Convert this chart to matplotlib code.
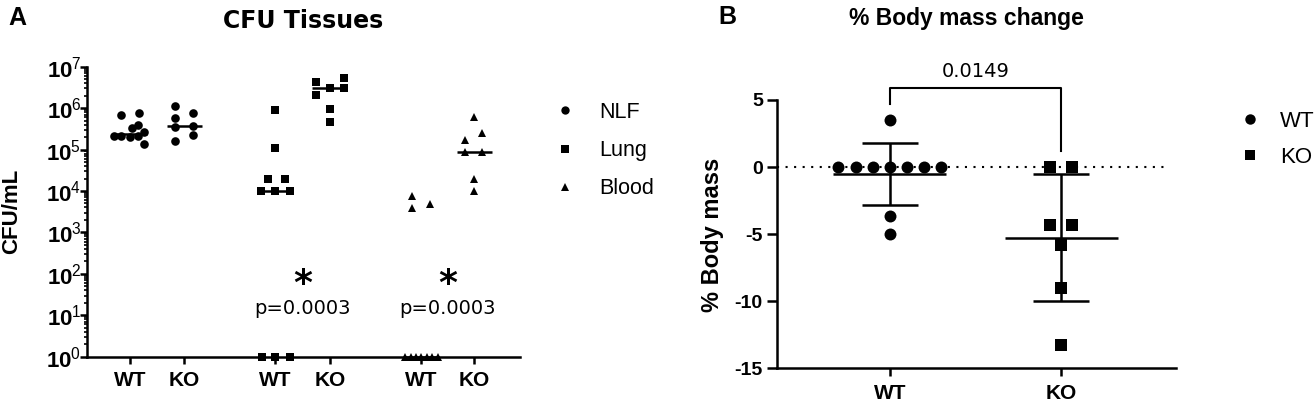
import matplotlib
matplotlib.use('Agg')
import matplotlib.pyplot as plt
import numpy as np
from matplotlib.lines import Line2D
from matplotlib.ticker import LogLocator, NullFormatter, FixedLocator

plt.rcParams['font.family'] = ['Liberation Sans', 'DejaVu Sans']
plt.rcParams['mathtext.fontset'] = 'custom'
plt.rcParams['mathtext.rm'] = 'Liberation Sans'
plt.rcParams['mathtext.bf'] = 'Liberation Sans:bold'
plt.rcParams['axes.unicode_minus'] = False

# ---------------- data: panel A (CFU/mL) ----------------
tissues = ['NLF', 'Lung', 'Blood']
genotypes = ['WT', 'KO']
nlf_wt = [6.9e5, 7.6e5, 4.0e5, 3.3e5, 2.7e5, 2.1e5, 2.1e5, 2.0e5, 2.1e5, 1.4e5]
nlf_ko = [1.15e6, 5.9e5, 3.6e5, 1.6e5, 7.6e5, 3.8e5, 2.2e5]
lung_wt = [9.1e5, 1.1e5, 2.0e4, 2.0e4, 1.0e4, 1.0e4, 1.0e4, 1, 1, 1]
lung_ko = [4.2e6, 2.1e6, 3.0e6, 5.3e6, 3.0e6, 9.3e5, 4.6e5]
blood_wt = [7.6e3, 3.8e3, 4.9e3, 1, 1, 1, 1, 1, 1, 1]
blood_ko = [6.0e5, 1.7e5, 2.5e5, 8.9e4, 8.9e4, 2.0e4, 1.0e4]
p_values_A = ['p=0.0003', 'p=0.0003']

# ---------------- data: panel B (% body mass change) ----------------
mass_wt = [3.5, 0, 0, 0, 0, 0, 0, 0, -3.68, -5.0]
mass_ko = [0, 0, -4.33, -4.33, -5.82, -9.03, -13.26]
p_value_B = '0.0149'

# ---------------- layout helpers (positions / jitter) ----------------
posA = [0, 1, 2.67, 3.67, 5.35, 6.32]
jit_nlf_wt = [-0.165, 0.165, 0.14, 0.03, 0.26, -0.29, -0.165, 0.0, 0.15, 0.26]
jit_nlf_ko = [-0.18, -0.18, -0.18, -0.18, 0.15, 0.15, 0.15]
jit_lung_wt = [0, 0, -0.14, 0.18, -0.26, 0, 0.27, -0.25, 0, 0.26]
jit_lung_ko = [-0.26, -0.26, 0, 0.26, 0.26, 0, 0]
jit_blood_wt = [-0.17, -0.17, 0.15, -0.3, -0.2, -0.1, 0, 0.1, 0.2, 0.3]
jit_blood_ko = [0, -0.17, 0.15, -0.17, 0.15, 0, 0]
jit_mass_wt = [0, -0.3, -0.2, -0.1, 0, 0.1, 0.2, 0.3, 0, 0]
jit_mass_ko = [-0.064, 0.064, -0.064, 0.064, 0, 0, 0]

W, H = 1314, 401
fig = plt.figure(figsize=(W / 100, H / 100), dpi=100)

def fx(x):
    return x / W

def fy(y):
    return 1 - y / H

axA = fig.add_axes([fx(87), fy(356.7), (520 - 87) / W, (356.7 - 66.7) / H])
axB = fig.add_axes([fx(776.7), fy(368.3), (1176 - 776.7) / W, (368.3 - 100) / H])

for ax in (axA, axB):
    for s in ('top', 'right'):
        ax.spines[s].set_visible(False)
    for s in ('left', 'bottom'):
        ax.spines[s].set_linewidth(1.8)

# ---------------- panel A ----------------
groups = [
    (nlf_wt, jit_nlf_wt, 'o', 6.2),
    (nlf_ko, jit_nlf_ko, 'o', 6.2),
    (lung_wt, jit_lung_wt, 's', 6.4),
    (lung_ko, jit_lung_ko, 's', 6.4),
    (blood_wt, jit_blood_wt, '^', 6.3),
    (blood_ko, jit_blood_ko, '^', 6.3),
]
for p, (vals, jit, m, ms) in zip(posA, groups):
    xs = np.array(jit) + p
    axA.plot(xs, vals, ls='none', marker=m, ms=ms, color='black',
             markeredgewidth=0, clip_on=False, zorder=3)
    med = np.median(vals)
    axA.plot([p - 0.32, p + 0.32], [med, med], color='black', lw=1.8,
             solid_capstyle='butt', clip_on=False, zorder=4)

axA.set_yscale('log')
axA.set_ylim(1, 1e7)
axA.set_xlim(-0.79, 7.16)
axA.yaxis.set_major_locator(FixedLocator([10.0 ** k for k in range(8)]))
axA.set_yticklabels([r'$\mathbf{10}^{\mathrm{%d}}$' % k for k in range(8)], fontsize=16)
axA.yaxis.set_minor_locator(LogLocator(base=10, subs=np.arange(2, 10), numticks=20))
axA.yaxis.set_minor_formatter(NullFormatter())
axA.tick_params(axis='y', which='major', length=5, width=1.8, pad=-1)
axA.tick_params(axis='y', which='minor', length=2.5, width=1.2)
axA.set_xticks(posA)
axA.set_xticklabels(genotypes * 3, fontsize=15, fontweight='bold')
axA.tick_params(axis='x', length=5, width=1.8, pad=5)

for i, g in enumerate([(2, 3), (4, 5)]):
    mid = (posA[g[0]] + posA[g[1]]) / 2
    axA.text(mid, 58, '*', ha='center', va='center', fontsize=26,
             fontweight='bold', family='DejaVu Sans')
    axA.text(mid, 14.5, p_values_A[i], ha='center', va='center', fontsize=14,
             family='DejaVu Sans')

fig.text(fx(303.5), fy(28), 'CFU Tissues', ha='center', va='baseline',
         fontsize=17, fontweight='bold', family='DejaVu Sans')
fig.text(fx(8), fy(25), 'A', ha='left', va='baseline', fontsize=18, fontweight='bold')
fig.text(fx(12), fy(211.7), 'CFU/mL', ha='center', va='center', rotation=90,
         fontsize=16, fontweight='bold')

handlesA = [Line2D([], [], ls='none', marker=m, color='black', ms=ms, markeredgewidth=0)
            for m, ms in zip(['o', 's', '^'], [6.0, 5.5, 5.5])]
fig.legend(handlesA, tissues, loc='upper left', bbox_to_anchor=(fx(554), fy(102)),
           frameon=False, fontsize=15.5, handlelength=1.0, handletextpad=1.08,
           labelspacing=0.80, borderpad=0, borderaxespad=0)

# ---------------- panel B ----------------
posB = [0, 1]
for p, vals, jit, m, ms in [(0, mass_wt, jit_mass_wt, 'o', 8.6),
                            (1, mass_ko, jit_mass_ko, 's', 8.0)]:
    xs = np.array(jit) + p
    axB.plot(xs, vals, ls='none', marker=m, ms=ms, color='black',
             markeredgewidth=0, zorder=3, clip_on=False)
    mean = np.mean(vals)
    sd = np.std(vals, ddof=1)
    axB.plot([p - 0.33, p + 0.33], [mean, mean], color='black', lw=1.8,
             solid_capstyle='butt', zorder=4)
    axB.errorbar([p], [mean], yerr=[sd], fmt='none', ecolor='black',
                 elinewidth=1.8, capsize=20, capthick=1.8, zorder=4)

axB.plot([-0.66, 1.626], [0, 0], color='black', lw=1.5,
         ls=(0, (1, 3.1)), dash_capstyle='butt', zorder=1, clip_on=False)
axB.set_xlim(-0.66, 1.67)
axB.set_ylim(-15, 5)
axB.set_yticks([5, 0, -5, -10, -15])
axB.set_yticklabels(['5', '0', '-5', '-10', '-15'], fontsize=14, fontweight='bold')
axB.set_xticks(posB)
axB.set_xticklabels(genotypes, fontsize=15, fontweight='bold')
axB.tick_params(axis='y', length=7, width=1.8, pad=3)
axB.tick_params(axis='x', length=6, width=1.8, pad=5)

axB.plot([0, 0, 1, 1], [4.7, 5.87, 5.87, 1.22], color='black', lw=1.5,
         clip_on=False)
axB.text(0.5, 7.15, p_value_B, ha='center', va='center', fontsize=14,
         family='DejaVu Sans')

fig.text(fx(966), fy(24.5), '% Body mass change', ha='center', va='baseline',
         fontsize=16.5, fontweight='bold')
fig.text(fx(718), fy(24), 'B', ha='left', va='baseline', fontsize=18, fontweight='bold')
fig.text(fx(712), fy(235), '% Body mass', ha='center', va='center', rotation=90,
         fontsize=17, fontweight='bold')

handlesB = [Line2D([], [], ls='none', marker=m, color='black', ms=ms, markeredgewidth=0)
            for m, ms in zip(['o', 's'], [7.5, 6.8])]
fig.legend(handlesB, genotypes, loc='upper left', bbox_to_anchor=(fx(1239), fy(111)),
           frameon=False, fontsize=16, handlelength=1.0, handletextpad=0.85,
           labelspacing=0.68, borderpad=0, borderaxespad=0)

fig.savefig('out.png', dpi=100)
